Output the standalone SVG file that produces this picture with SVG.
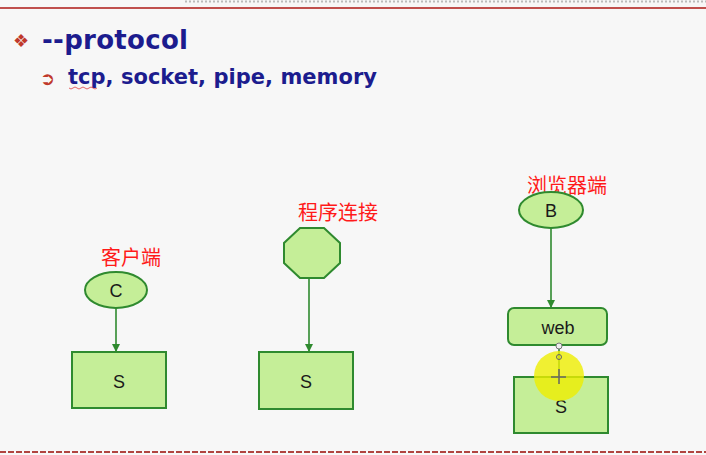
<svg xmlns="http://www.w3.org/2000/svg" width="706" height="455" viewBox="0 0 706 455">
<defs>
<style>
.shape{fill:#c5ee98;stroke:#2f8a2f;stroke-width:2}
.lbl{font-family:"Liberation Sans",Arial,sans-serif;font-size:18px;fill:#1a1a1a;text-anchor:middle}
.cn{font-family:"Noto Sans CJK SC",sans-serif;font-size:20px;fill:#ff1a1a}
.conn{stroke:#2f8a2f;stroke-width:1.6;fill:none}
.head{font-family:"DejaVu Sans",sans-serif;font-weight:bold;fill:#1c1c8e}
</style>
<marker id="ah" markerWidth="8" markerHeight="8" refX="7" refY="4" orient="auto" markerUnits="userSpaceOnUse">
<path d="M0,0 L8,4 L0,8 z" fill="#2f8a2f"/>
</marker>
</defs>
<rect width="706" height="455" fill="#f7f7f7"/>
<line x1="185" y1="1.5" x2="706" y2="1.5" stroke="#bbbbbb" stroke-width="2" stroke-dasharray="2,2"/>
<line x1="0" y1="8" x2="706" y2="8" stroke="#c0504d" stroke-width="2"/>
<line x1="0" y1="452" x2="706" y2="452" stroke="#b0443f" stroke-width="2" stroke-dasharray="6,2"/>

<text x="13" y="47" font-family="DejaVu Sans,sans-serif" font-size="18" fill="#c0392b">❖</text>
<text x="42" y="49" class="head" font-size="26" textLength="146" lengthAdjust="spacing">--protocol</text>
<text x="40" y="85" font-family="DejaVu Sans,sans-serif" font-size="18" font-weight="bold" fill="#c0392b">➲</text>
<text x="68" y="84" class="head" font-size="21" textLength="309" style="font-weight:600">tcp, socket, pipe, memory</text>
<path d="M69,88 q2,2 4,0 q2,-2 4,0 q2,2 4,0 q2,-2 4,0 q2,2 4,0 q2,-2 4,0 q2,2 4,0" stroke="#e04040" stroke-width="0.8" fill="none"/>

<g id="connectors">
<line class="conn" x1="116" y1="308" x2="116" y2="351" marker-end="url(#ah)"/>
<line class="conn" x1="309" y1="278" x2="309" y2="351" marker-end="url(#ah)"/>
<line class="conn" x1="551" y1="228" x2="551" y2="307" marker-end="url(#ah)"/>
<line class="conn" x1="559" y1="346" x2="559" y2="376"/>
</g>

<g id="client">
<text x="101" y="265" class="cn">客户端</text>
<ellipse class="shape" cx="116" cy="290" rx="31" ry="18"/>
<text x="116" y="297" class="lbl">C</text>
</g>
<g id="server1">
<rect class="shape" x="72" y="352" width="94" height="56"/>
<text x="119" y="388" class="lbl">S</text>
</g>

<g id="program">
<text x="298" y="220" class="cn">程序连接</text>
<polygon class="shape" points="300,228 324,228 340,243 340,263 324,278 300,278 284,263 284,243"/>
</g>
<g id="server2">
<rect class="shape" x="259" y="352" width="94" height="57"/>
<text x="306" y="388" class="lbl">S</text>
</g>

<g id="browser">
<text x="527" y="193" class="cn">浏览器端</text>
<ellipse class="shape" cx="551" cy="210" rx="32" ry="18"/>
<text x="551" y="217" class="lbl">B</text>
</g>
<g id="web">
<rect class="shape" x="508" y="308" width="99" height="37" rx="6"/>
<text x="558" y="334" class="lbl">web</text>
</g>
<g id="server3">
<rect class="shape" x="514" y="377" width="94" height="56"/>
<text x="561" y="413" class="lbl">S</text>
</g>

<g id="cursor">
<circle cx="559" cy="376" r="25" fill="#eeee00" fill-opacity="0.8"/>
<circle cx="559" cy="346" r="3" fill="#eeeeee" stroke="#777" stroke-width="1"/>
<circle cx="559" cy="357" r="2.5" fill="none" stroke="#666" stroke-width="1"/>
<path d="M559,369 v15 M551,377 h15" stroke="#666" stroke-width="1.5"/>
</g>
</svg>
